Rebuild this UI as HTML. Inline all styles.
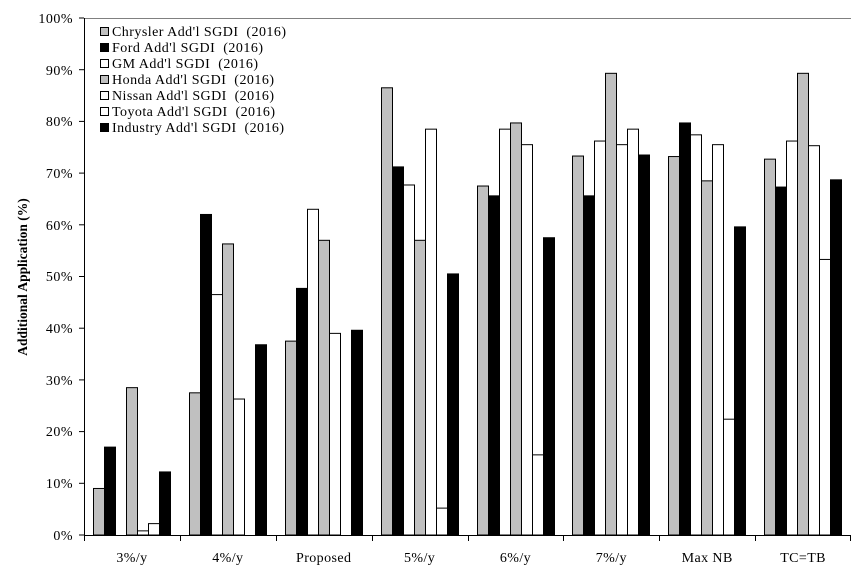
<!DOCTYPE html><html><head><style>body{margin:0;background:#fff}svg{display:block}text{font-family:"Liberation Serif",serif;white-space:pre}</style></head><body>
<svg width="855" height="585" xmlns="http://www.w3.org/2000/svg" id="s">
<g font-size="14" text-anchor="end" fill="#000" letter-spacing="0.5">
<text x="73" y="540">0%</text><text x="73" y="488">10%</text><text x="73" y="436">20%</text><text x="73" y="385">30%</text><text x="73" y="333">40%</text><text x="73" y="281">50%</text><text x="73" y="230">60%</text><text x="73" y="178">70%</text><text x="73" y="126">80%</text><text x="73" y="75">90%</text><text x="73" y="23">100%</text>
</g>
<g stroke="#000"><line x1="79" x2="84" y1="535" y2="535"/><line x1="79" x2="84" y1="483.3" y2="483.3"/><line x1="79" x2="84" y1="431.6" y2="431.6"/><line x1="79" x2="84" y1="379.9" y2="379.9"/><line x1="79" x2="84" y1="328.2" y2="328.2"/><line x1="79" x2="84" y1="276.5" y2="276.5"/><line x1="79" x2="84" y1="224.8" y2="224.8"/><line x1="79" x2="84" y1="173.1" y2="173.1"/><line x1="79" x2="84" y1="121.4" y2="121.4"/><line x1="79" x2="84" y1="69.7" y2="69.7"/><line x1="79" x2="84" y1="18" y2="18"/></g>
<g id="bars"></g>
<line x1="84" x2="851" y1="18.5" y2="18.5" stroke="#808080"/>
<line x1="84.5" x2="84.5" y1="18" y2="535" stroke="#000"/>
<line x1="84" x2="851" y1="535.5" y2="535.5" stroke="#000"/>
<g id="ticks" stroke="#000"></g>
<g font-size="14" text-anchor="middle" id="cats" letter-spacing="0.4"></g>
<text transform="translate(27,277) rotate(-90)" font-size="13.5" font-weight="bold" text-anchor="middle">Additional Application (%)</text>
<g font-size="14">
<rect x="90" y="21" width="200" height="117" fill="#fff"/>
<rect x="100.5" y="27.5" width="8" height="8" fill="#c0c0c0" stroke="#000"/><text x="112" y="36" textLength="174">Chrysler Add'l SGDI  (2016)</text>
<rect x="100.5" y="43.5" width="8" height="8" fill="#000" stroke="#000"/><text x="112" y="52" textLength="151">Ford Add'l SGDI  (2016)</text>
<rect x="100.5" y="59.5" width="8" height="8" fill="#fff" stroke="#000"/><text x="112" y="68" textLength="146">GM Add'l SGDI  (2016)</text>
<rect x="100.5" y="75.5" width="8" height="8" fill="#c0c0c0" stroke="#000"/><text x="112" y="84" textLength="162">Honda Add'l SGDI  (2016)</text>
<rect x="100.5" y="91.5" width="8" height="8" fill="#fff" stroke="#000"/><text x="112" y="100" textLength="162">Nissan Add'l SGDI  (2016)</text>
<rect x="100.5" y="107.5" width="8" height="8" fill="#fff" stroke="#000"/><text x="112" y="116" textLength="163">Toyota Add'l SGDI  (2016)</text>
<rect x="100.5" y="123.5" width="8" height="8" fill="#000" stroke="#000"/><text x="112" y="132" textLength="172">Industry Add'l SGDI  (2016)</text>
</g>
</svg>
<script>
var d=[[9,17,0,28.5,0.8,2.2,12.2],[27.5,62,46.5,56.3,26.3,0,36.8],[37.5,47.7,63,57,39,0,39.6],[86.5,71.2,67.7,57,78.5,5.2,50.5],[67.5,65.6,78.5,79.7,75.5,15.5,57.5],[73.3,65.6,76.2,89.3,75.5,78.5,73.5],[73.2,79.7,77.4,68.5,75.5,22.4,59.6],[72.7,67.3,76.2,89.3,75.3,53.3,68.7]];
var cols=["#c0c0c0","#000","#fff","#c0c0c0","#fff","#fff","#000"];
var cats=["3%/y","4%/y","Proposed","5%/y","6%/y","7%/y","Max NB","TC=TB"];
var ns="http://www.w3.org/2000/svg",b=document.getElementById("bars"),t=document.getElementById("ticks"),c=document.getElementById("cats");
function el(p,n,a){var e=document.createElementNS(ns,n);for(var k in a)e.setAttribute(k,a[k]);p.appendChild(e);return e;}
var gw=767/8;
for(var g=0;g<8;g++){var x0=84+g*gw;
el(t,"line",{x1:Math.round(x0)+.5,x2:Math.round(x0)+.5,y1:535,y2:541});
var tx=el(c,"text",{x:x0+gw/2,y:562});tx.textContent=cats[g];
for(var i=0;i<7;i++){var v=d[g][i];if(v<=0)continue;var h=v*5.17;var x=Math.round(x0+9+i*11)+.5;
el(b,"rect",{x:x,y:535-h,width:11,height:h,fill:cols[i],stroke:"#000"});}}
el(t,"line",{x1:850.5,x2:850.5,y1:535,y2:541});
</script>
</body></html>
